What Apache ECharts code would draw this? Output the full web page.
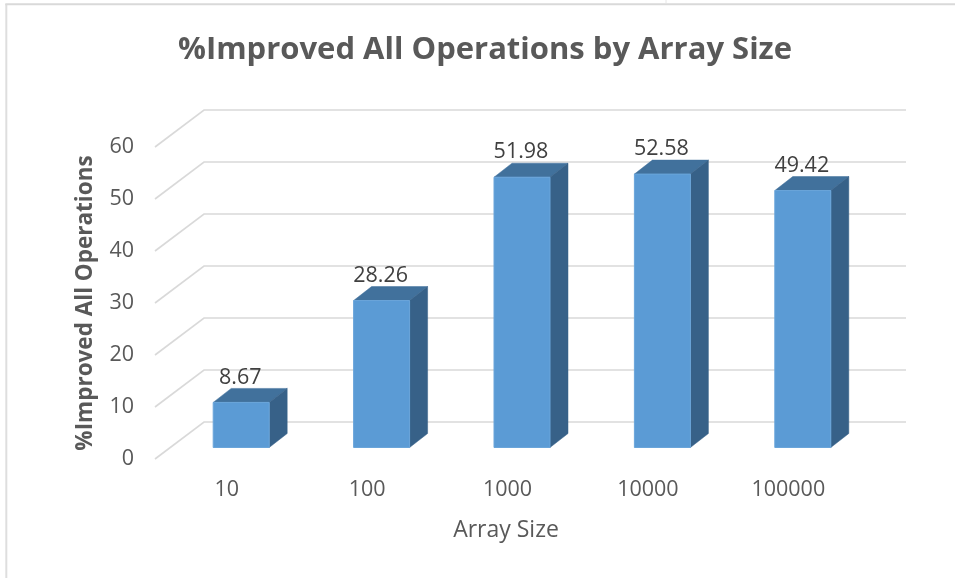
<!DOCTYPE html>
<html><head><meta charset="utf-8">
<style>html,body{margin:0;padding:0;background:#fff}#c{width:955px;height:578px}</style>
<script src="https://cdn.jsdelivr.net/npm/echarts@6/dist/echarts.min.js"></script>
</head><body><div id="c"></div>
<script>
const categories = ['10','100','1000','10000','100000'];
const values = [8.67,28.26,51.98,52.58,49.42];
const gridTicks = [0,10,20,30,40,50,60];
const FONT = '"Open Sans","Noto Sans",sans-serif';
const TEXT = '#595959';
const DEPTH = {dx:49, dy:37};
const BAR = {off:16, rise:11.5, w:56, dx:18, dy:14};

const chart = echarts.init(document.getElementById('c'), null, {renderer:'canvas'});
chart.setOption({
  animation:false,
  backgroundColor:'#fff',
  title:{text:'%Improved All Operations by Array Size',left:480,top:30,textAlign:'center',
    textStyle:{fontFamily:FONT,fontSize:31,fontWeight:'bold',color:TEXT}},
  grid:{left:155,width:702,top:147,height:312},
  xAxis:{type:'category',data:categories,name:'Array Size',nameLocation:'middle',nameGap:60,
    nameTextStyle:{fontFamily:FONT,fontSize:23,color:TEXT},
    axisLine:{show:false},axisTick:{show:false},splitLine:{show:false},
    axisLabel:{fontFamily:FONT,fontSize:21.5,color:TEXT,margin:20,padding:[0,0,0,3]}},
  yAxis:{type:'value',min:0,max:60,interval:10,name:'%Improved All Operations',nameLocation:'middle',nameGap:58,
    nameTextStyle:{fontFamily:FONT,fontSize:22.5,fontWeight:'bold',color:TEXT},
    axisLine:{show:false},axisTick:{show:false},splitLine:{show:false},
    axisLabel:{fontFamily:FONT,fontSize:21.5,color:TEXT,margin:21}},
  series:[
    {type:'custom',silent:true,clip:false,z:1,
     data:gridTicks.map(t=>[0,t]),
     renderItem(params,api){
       const y=api.coord([0,api.value(1)])[1], c=params.coordSys;
       return {type:'polyline',shape:{points:[[c.x,y],[c.x+DEPTH.dx,y-DEPTH.dy],[c.x+DEPTH.dx+c.width,y-DEPTH.dy]]},
         style:{fill:null,stroke:'#d9d9d9',lineWidth:1.6}};
     }},
    {type:'custom',silent:true,clip:false,z:2,
     data:values.map((v,i)=>[i,v]),
     renderItem(params,api){
       const v=api.value(1);
       const base=api.coord([api.value(0),0]), top=api.coord([api.value(0),v]);
       const l=base[0]+BAR.off-BAR.w/2, r=l+BAR.w;
       const b=base[1]-BAR.rise, t=top[1]-BAR.rise;
       const dx=BAR.dx, dy=BAR.dy;
       return {type:'group',children:[
         {type:'polygon',shape:{points:[[l,t],[r,t],[r+dx,t-dy],[l+dx,t-dy]]},style:{fill:'#41719c',stroke:'#41719c',lineWidth:.5}},
         {type:'polygon',shape:{points:[[r,t],[r+dx,t-dy],[r+dx,b-dy],[r,b]]},style:{fill:'#376188',stroke:'#376188',lineWidth:.5}},
         {type:'rect',shape:{x:l,y:t,width:BAR.w,height:b-t},style:{fill:'#5b9bd5',stroke:'#6aa5da',lineWidth:1}},
         {type:'text',x:(l+r)/2-1,y:t-25,style:{text:v.toFixed(2),fontFamily:FONT,fontSize:21.5,fill:'#404040',align:'center',verticalAlign:'middle'}}
       ]};
     }}
  ],
  graphic:[
    {type:'line',silent:true,shape:{x1:6.3,y1:4,x2:6.3,y2:578},style:{stroke:'#dedede',lineWidth:2}},
    {type:'line',silent:true,shape:{x1:5.3,y1:4.3,x2:955,y2:4.3},style:{stroke:'#d9d9d9',lineWidth:2}},
    {type:'line',silent:true,shape:{x1:666,y1:0,x2:666,y2:3},style:{stroke:'#e6e6e6',lineWidth:1}}
  ]
});
</script></body></html>
